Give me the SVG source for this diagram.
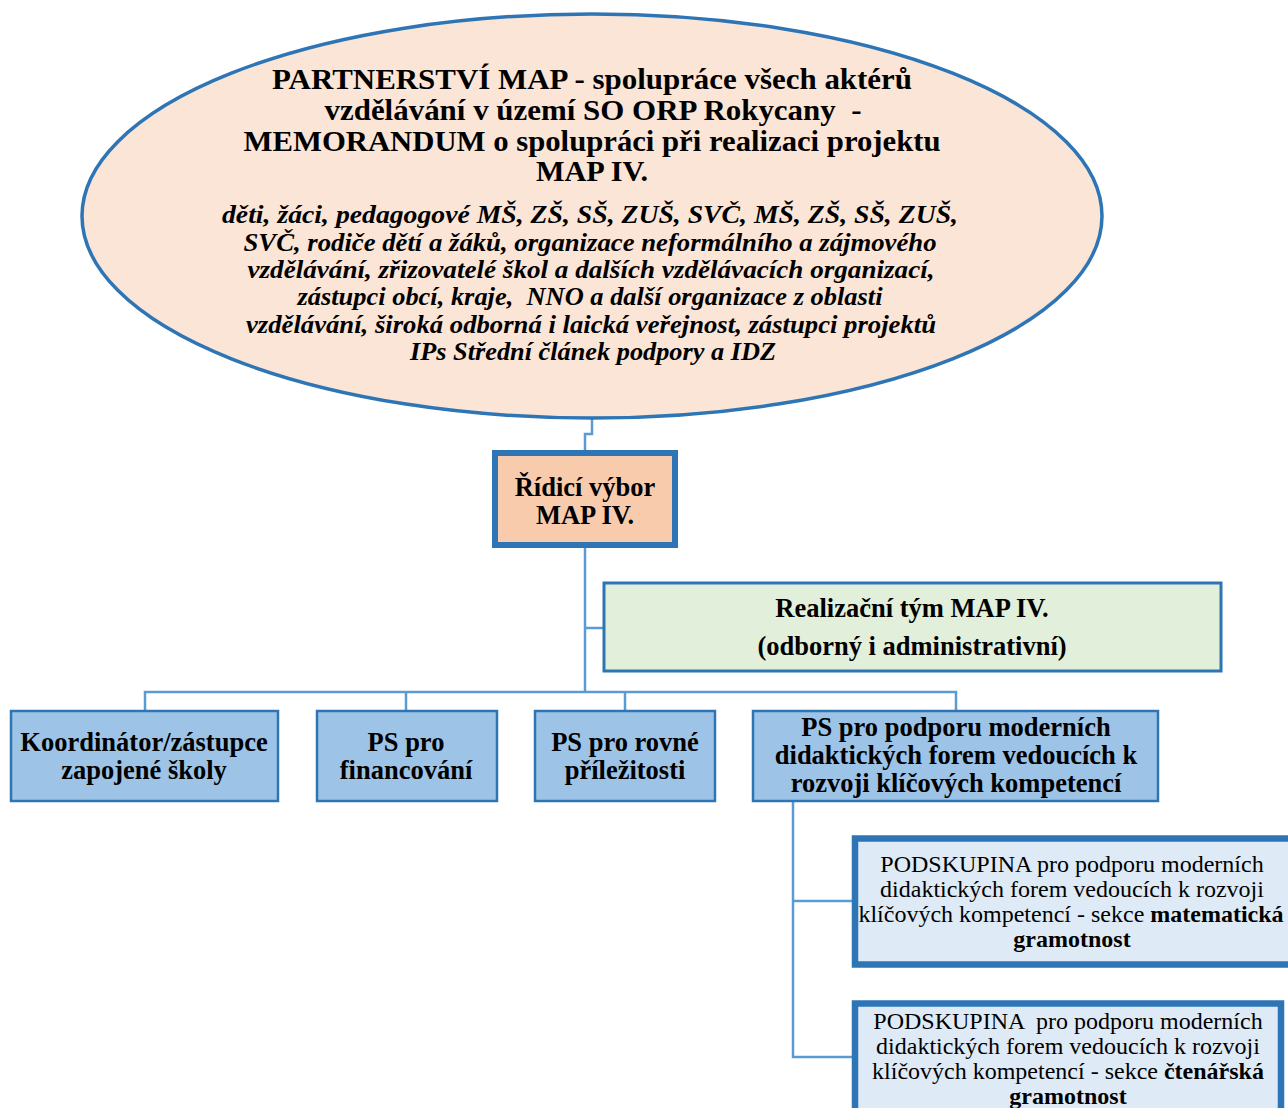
<svg xmlns="http://www.w3.org/2000/svg" width="1288" height="1108" viewBox="0 0 1288 1108">
<style>
.t{font-family:"Liberation Serif","Times New Roman",serif;fill:#000;text-anchor:middle}
.b{font-weight:bold}
.i{font-style:italic;font-weight:bold}
.con{fill:none;stroke:#5B9BD5;stroke-width:2.5}
.row{fill:#9DC3E6;stroke:#2E75B6;stroke-width:2.5}
.sub{fill:#DEEBF7;stroke:#2E75B6;stroke-width:6.5}
</style>
<rect width="1288" height="1108" fill="#fff"/>
<g id="connectors">
<polyline class="con" points="592,417 592,434 585,434 585,452"/>
<line class="con" x1="585" y1="546" x2="585" y2="692"/>
<line class="con" x1="585" y1="628" x2="604" y2="628"/>
<polyline class="con" points="145,711 145,692 956,692 956,711"/>
<line class="con" x1="406" y1="692" x2="406" y2="711"/>
<line class="con" x1="625" y1="692" x2="625" y2="711"/>
<polyline class="con" points="793,801 793,1057 855,1057"/>
<line class="con" x1="793" y1="901" x2="855" y2="901"/>
</g>
<g id="partnerstvi">
<ellipse cx="592" cy="216" rx="510" ry="202" fill="#FBE5D6" stroke="#2E75B6" stroke-width="3.5"/>
<text class="t b" font-size="28.5" x="592" y="89" textLength="640" lengthAdjust="spacingAndGlyphs">PARTNERSTVÍ MAP - spolupráce všech aktérů</text>
<text class="t b" font-size="28.5" x="593" y="120" xml:space="preserve" textLength="537" lengthAdjust="spacingAndGlyphs">vzdělávání v území SO ORP Rokycany  -</text>
<text class="t b" font-size="28.5" x="592" y="151" textLength="697" lengthAdjust="spacingAndGlyphs">MEMORANDUM o spolupráci při realizaci projektu</text>
<text class="t b" font-size="28.5" x="592" y="181" textLength="112" lengthAdjust="spacingAndGlyphs">MAP IV.</text>
<text class="t i" font-size="25" x="590" y="223" textLength="736" lengthAdjust="spacingAndGlyphs">děti, žáci, pedagogové MŠ, ZŠ, SŠ, ZUŠ, SVČ, MŠ, ZŠ, SŠ, ZUŠ,</text>
<text class="t i" font-size="25" x="590" y="251" textLength="693" lengthAdjust="spacingAndGlyphs">SVČ, rodiče dětí a žáků, organizace neformálního a zájmového</text>
<text class="t i" font-size="25" x="591" y="278" textLength="687" lengthAdjust="spacingAndGlyphs">vzdělávání, zřizovatelé škol a dalších vzdělávacích organizací,</text>
<text class="t i" font-size="25" x="590" y="305" xml:space="preserve" textLength="585" lengthAdjust="spacingAndGlyphs">zástupci obcí, kraje,  NNO a další organizace z oblasti</text>
<text class="t i" font-size="25" x="591" y="333" textLength="690" lengthAdjust="spacingAndGlyphs">vzdělávání, široká odborná i laická veřejnost, zástupci projektů</text>
<text class="t i" font-size="25" x="593" y="360" textLength="366" lengthAdjust="spacingAndGlyphs">IPs Střední článek podpory a IDZ</text>
</g>
<g id="ridici">
<rect x="495" y="453" width="180" height="92" fill="#F8CBAD" stroke="#2E75B6" stroke-width="6"/>
<text class="t b" font-size="26.5" x="585" y="496">Řídicí výbor</text>
<text class="t b" font-size="26.5" x="585" y="524">MAP IV.</text>
</g>
<g id="realizacni">
<rect x="604" y="583" width="617" height="88" fill="#E2EFDA" stroke="#2E75B6" stroke-width="3"/>
<text class="t b" font-size="26.5" x="912" y="617">Realizační tým MAP IV.</text>
<text class="t b" font-size="26.5" x="912" y="655">(odborný i administrativní)</text>
</g>
<g id="koordinator">
<rect class="row" x="11" y="711" width="267" height="90"/>
<text class="t b" font-size="26.5" x="144" y="751">Koordinátor/zástupce</text>
<text class="t b" font-size="26.5" x="144" y="779">zapojené školy</text>
</g>
<g id="financovani">
<rect class="row" x="317" y="711" width="180" height="90"/>
<text class="t b" font-size="26.5" x="406" y="751">PS pro</text>
<text class="t b" font-size="26.5" x="406" y="779">financování</text>
</g>
<g id="rovne">
<rect class="row" x="535" y="711" width="180" height="90"/>
<text class="t b" font-size="26.5" x="625" y="751">PS pro rovné</text>
<text class="t b" font-size="26.5" x="625" y="779">příležitosti</text>
</g>
<g id="podpora">
<rect class="row" x="753" y="711" width="405" height="90"/>
<text class="t b" font-size="26.5" x="956" y="736">PS pro podporu moderních</text>
<text class="t b" font-size="26.5" x="956" y="764">didaktických forem vedoucích k</text>
<text class="t b" font-size="26.5" x="956" y="792">rozvoji klíčových kompetencí</text>
</g>
<g id="matematicka">
<rect class="sub" x="855" y="838.5" width="440" height="126"/>
<text class="t" font-size="24" x="1072" y="872">PODSKUPINA pro podporu moderních</text>
<text class="t" font-size="24" x="1072" y="897">didaktických forem vedoucích k rozvoji</text>
<text class="t" font-size="24" x="1071" y="922">klíčových kompetencí - sekce <tspan font-weight="bold">matematická</tspan></text>
<text class="t b" font-size="24" x="1072" y="947">gramotnost</text>
</g>
<g id="ctenarska">
<rect class="sub" x="855" y="1003.5" width="426" height="120"/>
<text class="t" font-size="24" x="1068" y="1029" xml:space="preserve">PODSKUPINA  pro podporu moderních</text>
<text class="t" font-size="24" x="1068" y="1054">didaktických forem vedoucích k rozvoji</text>
<text class="t" font-size="24" x="1068" y="1079">klíčových kompetencí - sekce <tspan font-weight="bold">čtenářská</tspan></text>
<text class="t b" font-size="24" x="1068" y="1104">gramotnost</text>
</g>
</svg>
